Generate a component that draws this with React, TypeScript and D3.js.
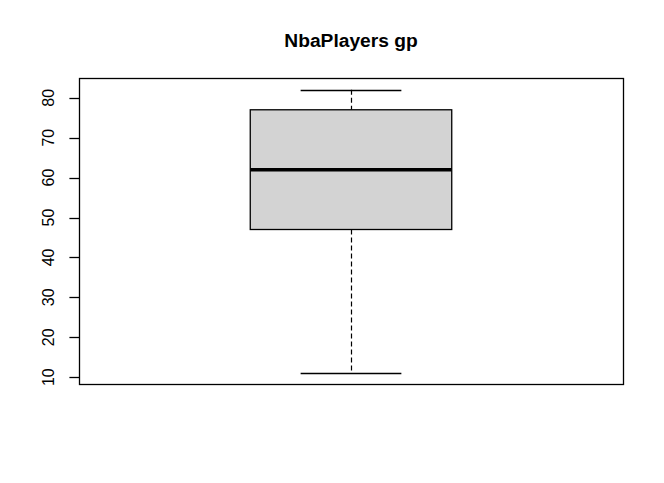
import React from "react";
import * as d3 from "d3";

const title = "NbaPlayers gp";
const yTicks = [10, 20, 30, 40, 50, 60, 70, 80];
// five-number summary: lower whisker, Q1, median, Q3, upper whisker
const boxStats = [11, 47, 62, 77, 82];

const W = 664;
const H = 483;
const margin = { left: 79, right: 41, top: 78.5, bottom: 98.5 };

export default function App() {
  const [lo, q1, med, q3, hi] = boxStats;
  const pad = (hi - lo) * 0.04;
  const y = d3
    .scaleLinear()
    .domain([lo - pad, hi + pad])
    .range([H - margin.bottom, margin.top]);
  const x = d3
    .scaleLinear()
    .domain([0.5 - 0.04, 1.5 + 0.04])
    .range([margin.left, W - margin.right]);
  const font = "'Liberation Sans', Arial, sans-serif";
  const cx = x(1);
  const left = x(0.8);
  const right = x(1.2);
  const sl = x(0.9);
  const sr = x(1.1);
  const px = (v: number) => Math.round(v) + 0.5;
  return (
    <svg
      width={W}
      height={H}
      style={{ position: "absolute", left: 0, top: 0, background: "#fff" }}
    >
      <rect x={0} y={0} width={W} height={H} fill="#fff" />
      <text
        x={(margin.left + W - margin.right) / 2}
        y={47}
        textAnchor="middle"
        fontFamily={font}
        fontWeight="bold"
        fontSize={19.2}
      >
        {title}
      </text>
      {/* whiskers */}
      <line x1={px(cx)} x2={px(cx)} y1={y(hi)} y2={y(q3)} stroke="#000" strokeWidth={1.2} strokeDasharray="5,3" />
      <line x1={px(cx)} x2={px(cx)} y1={y(q1)} y2={y(lo)} stroke="#000" strokeWidth={1.2} strokeDasharray="5,3" />
      <line x1={sl} x2={sr} y1={px(y(hi))} y2={px(y(hi))} stroke="#000" strokeWidth={1.3} />
      <line x1={sl} x2={sr} y1={px(y(lo))} y2={px(y(lo))} stroke="#000" strokeWidth={1.3} />
      {/* box */}
      <rect
        x={left}
        y={y(q3)}
        width={right - left}
        height={y(q1) - y(q3)}
        fill="#D3D3D3"
        stroke="#000"
        strokeWidth={1.3}
      />
      <line x1={left} x2={right} y1={y(med)} y2={y(med)} stroke="#000" strokeWidth={3.5} />
      {/* plot frame */}
      <rect
        x={margin.left + 0.5}
        y={margin.top}
        width={W - margin.left - margin.right}
        height={H - margin.top - margin.bottom}
        fill="none"
        stroke="#000"
        strokeWidth={1.3}
      />
      {/* y axis */}
      {yTicks.map((t) => (
        <g key={t}>
          <line
            x1={margin.left - 9.6}
            x2={margin.left}
            y1={px(y(t))}
            y2={px(y(t))}
            stroke="#000"
            strokeWidth={1.3}
          />
          <text
            transform={`translate(${54},${y(t)}) rotate(-90)`}
            textAnchor="middle"
            fontFamily={font}
            fontSize={16}
          >
            {t}
          </text>
        </g>
      ))}
    </svg>
  );
}
